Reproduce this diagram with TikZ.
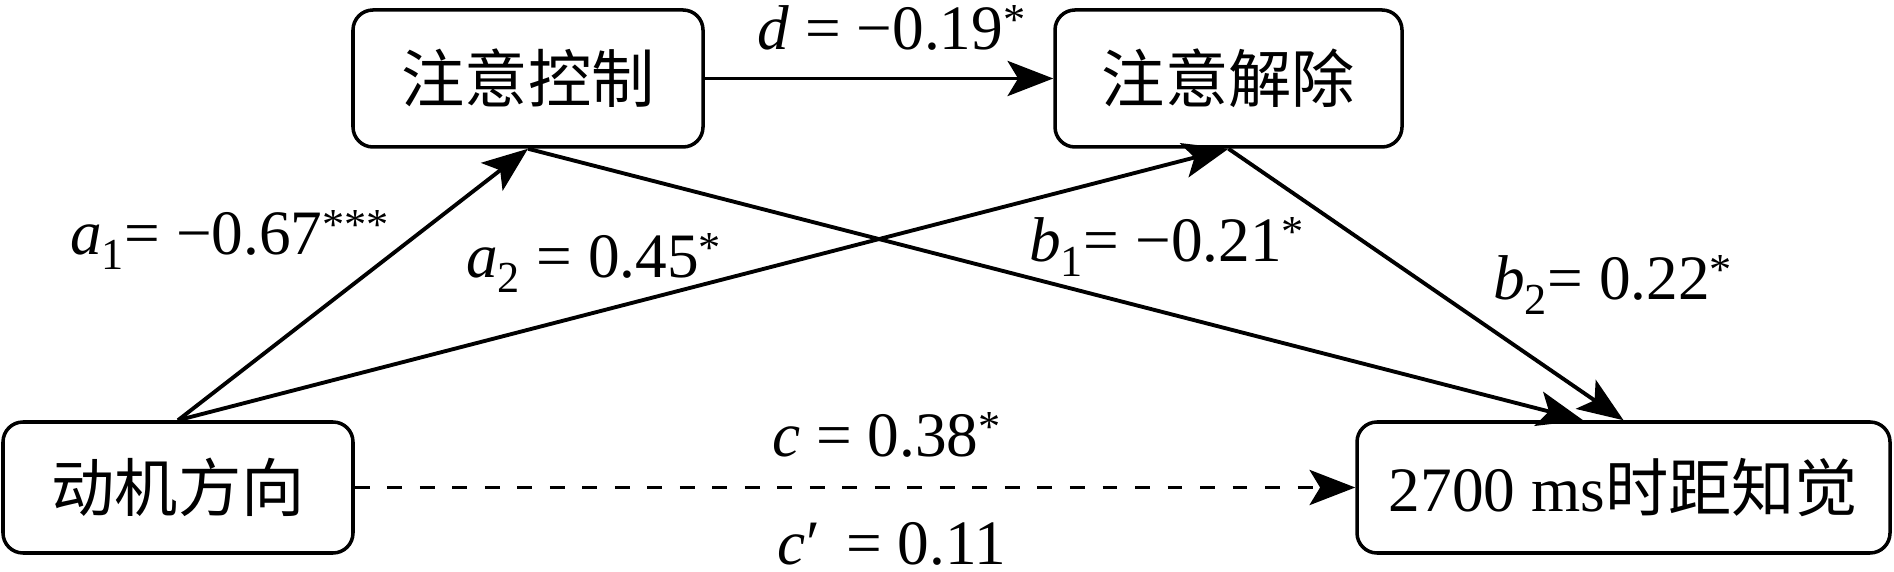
\documentclass[tikz,border=0pt]{standalone}
\usepackage{fontspec}
\setmainfont{Liberation Serif}
\newfontfamily\cjk{Noto Sans CJK SC}
\usetikzlibrary{arrows.meta, positioning}

\begin{document}
\begin{tikzpicture}[
    varbox/.style={draw, line width=2pt, rounded corners=0.4cm, inner sep=0pt, font=\fontsize{36}{40}\selectfont},
    effect/.style={line width=2.2pt, -{Stealth[length=26pt, width=20pt, inset=6pt]}},
    coef/.style={anchor=base, inner sep=0pt, font=\fontsize{36}{40}\selectfont}
]
    \useasboundingbox (0,0) rectangle (37.88,11.44);

    % Variables
    \node[varbox, minimum width=7cm, minimum height=2.74cm] (ctrl) at (10.56,9.87) {\cjk 注意控制};
    \node[varbox, minimum width=6.94cm, minimum height=2.74cm] (rel) at (24.57,9.87) {\cjk 注意解除};
    \node[varbox, minimum width=7cm, minimum height=2.62cm] (mot) at (3.56,1.69) {\cjk 动机方向};
    \node[varbox, minimum width=10.66cm, minimum height=2.62cm] (out) at (32.47,1.69) {2700 ms{\cjk 时距知觉}};

    % Paths
    \draw[effect] (mot.north) -- (ctrl.south);
    \draw[effect] (mot.north) -- (rel.south);
    \draw[effect] (ctrl.east) -- (rel.west);
    \draw[effect] (ctrl.south) -- (out.121);
    \draw[effect] (rel.south) -- (out.north);
    \draw[effect, dash pattern=on 8.5pt off 10pt] (mot.east) -- (out.west);

    % Coefficients
    \node[coef] (la1) at (4.6,6.34) {\textit{a}\textsubscript{1}= −0.67\textsuperscript{***}};
    \node[coef] (la2) at (11.88,5.88) {\textit{a}\textsubscript{2} = 0.45\textsuperscript{*}};
    \node[coef] (lb1) at (23.34,6.2) {\textit{b}\textsubscript{1}= −0.21\textsuperscript{*}};
    \node[coef] (lb2) at (32.26,5.44) {\textit{b}\textsubscript{2}= 0.22\textsuperscript{*}};
    \node[coef] (ld) at (17.84,10.44) {\textit{d} = −0.19\textsuperscript{*}};
    \node[coef] (lc) at (17.74,2.3) {\textit{c} = 0.38\textsuperscript{*}};
    \node[coef] (lcp) at (17.84,0.14) {\textit{c}′ \,= 0.11};
\end{tikzpicture}
\end{document}
